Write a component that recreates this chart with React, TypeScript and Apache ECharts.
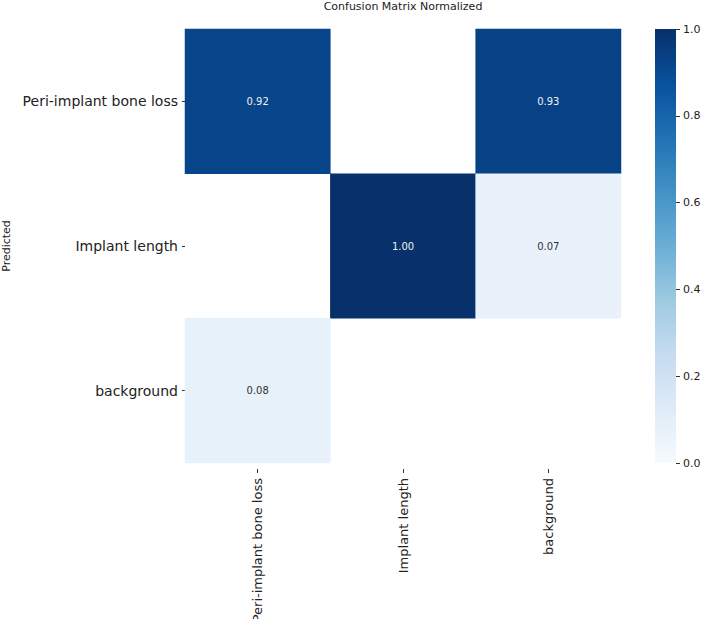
import React, { useEffect, useRef } from "react";
import * as echarts from "echarts";

const trueCategories = ["Peri-implant bone loss", "Implant length", "background"];
const predictedCategories = ["Peri-implant bone loss", "Implant length", "background"];
// rows = predicted, columns = true; null = blank cell
const matrixRows: (number | null)[][] = [
  [0.92, null, 0.93],
  [null, 1.0, 0.07],
  [0.08, null, null],
];
const colorbarTicks = [0, 0.2, 0.4, 0.6, 0.8, 1.0];
const bluesColormap = [
  "#f7fbff", "#deebf7", "#c6dbef", "#9ecae1", "#6baed6",
  "#4292c6", "#2171b5", "#08519c", "#08306b",
];

const FONT = "DejaVu Sans";

export default function App() {
  const ref = useRef<HTMLDivElement>(null);
  useEffect(() => {
    if (!ref.current) return;
    const chart = echarts.init(ref.current, undefined, { renderer: "svg" });
    const data: any[] = [];
    matrixRows.forEach((row, r) => {
      row.forEach((v, c) => {
        if (v === null) return;
        data.push({
          value: [c, r, v],
          label: { color: v > 0.5 ? "#f0f0f0" : "#333333" },
        });
      });
    });
    const n = bluesColormap.length;
    // top (offset 0) = darkest, bottom (offset 1) = lightest
    const gradientStops = bluesColormap
      .slice()
      .reverse()
      .map((color, i) => ({ offset: i / (n - 1), color }));
    chart.setOption({
      animation: false,
      textStyle: { fontFamily: FONT },
      grid: [
        { left: 185, top: 29, width: 436, height: 434, containLabel: false, outerBoundsMode: "none" },
        { left: 676, top: 29, width: 20, height: 434, containLabel: false, outerBoundsMode: "none" },
      ],
      xAxis: [
        {
          type: "category",
          gridIndex: 0,
          data: trueCategories,
          position: "bottom",
          offset: 6,
          axisLine: { show: false },
          axisTick: { show: true, alignWithLabel: true, length: 4, lineStyle: { color: "#333" } },
          axisLabel: { rotate: 90, fontSize: 13, margin: 9, color: "#222", fontFamily: FONT },
          splitLine: { show: false },
        },
        { type: "value", gridIndex: 1, show: false, min: 0, max: 1 },
      ],
      yAxis: [
        {
          type: "category",
          gridIndex: 0,
          data: predictedCategories,
          inverse: true,
          axisLine: { show: false },
          axisTick: { show: true, alignWithLabel: true, length: 3, lineStyle: { color: "#333" } },
          axisLabel: { fontSize: 14, margin: 7, color: "#222", fontFamily: FONT },
          name: "Predicted",
          nameLocation: "middle",
          nameGap: 172,
          nameRotate: 90,
          nameTextStyle: { fontSize: 11, color: "#222", fontFamily: FONT },
          splitLine: { show: false },
        },
        {
          type: "value",
          gridIndex: 1,
          position: "left",
          min: 0,
          max: 1,
          interval: 0.2,
          axisLine: { show: false },
          axisTick: { show: true, inside: true, length: 4, lineStyle: { color: "#333" } },
          axisLabel: {
            inside: true,
            fontSize: 11,
            margin: 7,
            color: "#222",
            fontFamily: FONT,
            formatter: (v: number) =>
              colorbarTicks.some((t) => Math.abs(t - v) < 1e-9) ? v.toFixed(1) : "",
          },
          splitLine: { show: false },
        },
      ],
      visualMap: {
        type: "continuous",
        show: false,
        seriesIndex: 0,
        min: 0,
        max: 1,
        inRange: { color: bluesColormap },
      },
      graphic: [
        {
          type: "text",
          x: 403,
          y: 1,
          style: {
            text: "Confusion Matrix Normalized",
            font: `11px '${FONT}'`,
            fill: "#222",
            textAlign: "center",
            textVerticalAlign: "top",
          },
        },
        {
          type: "rect",
          shape: { x: 655, y: 29, width: 21, height: 434 },
          style: {
            fill: new echarts.graphic.LinearGradient(0, 0, 0, 1, gradientStops),
          },
          z: -1,
        },
      ],
      series: [
        {
          type: "heatmap",
          xAxisIndex: 0,
          yAxisIndex: 0,
          data,
          label: {
            show: true,
            fontSize: 10,
            fontFamily: FONT,
            formatter: (p: any) => p.value[2].toFixed(2),
          },
          itemStyle: { borderWidth: 0 },
          emphasis: { disabled: true },
        },
      ],
    });
    return () => chart.dispose();
  }, []);
  return (
    <div
      ref={ref}
      style={{ position: "fixed", left: 0, top: 0, width: 702, height: 619, background: "#fff" }}
    />
  );
}
